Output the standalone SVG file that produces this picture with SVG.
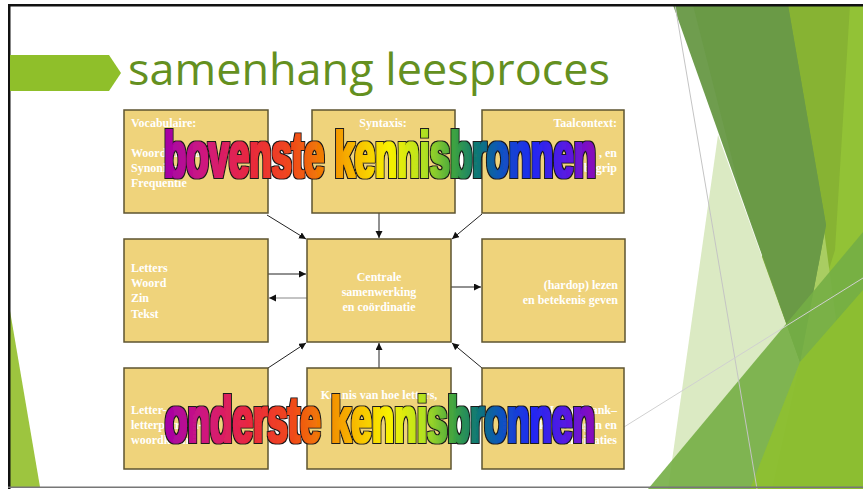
<svg xmlns="http://www.w3.org/2000/svg" width="863" height="489" viewBox="0 0 863 489">
<style>
.box{fill:#EFD37B;stroke:#5e5430;stroke-width:1.5}
.t{font-family:"Liberation Sans",serif;font-weight:bold;font-size:12px;fill:#ffffff}
.t{font-family:"Liberation Serif",serif}
.c{stroke:#222;stroke-width:1;fill:none;marker-end:url(#ah)}
.wa{font-family:"Liberation Sans",Arial,sans-serif;font-weight:bold;font-size:64px;filter:url(#heavy)}
</style>
<defs>
<marker id="ah" markerWidth="8" markerHeight="8" refX="7" refY="3.5" orient="auto" markerUnits="userSpaceOnUse">
<path d="M0,0 L7,3.5 L0,7 z" fill="#111"/>
</marker>
<linearGradient id="rb" gradientUnits="userSpaceOnUse" x1="163" y1="0" x2="598" y2="0">
<stop offset="0" stop-color="#a000a8"/>
<stop offset="0.1" stop-color="#d0187a"/>
<stop offset="0.2" stop-color="#e8283c"/>
<stop offset="0.3" stop-color="#f04a18"/>
<stop offset="0.37" stop-color="#f08000"/>
<stop offset="0.45" stop-color="#f8c000"/>
<stop offset="0.52" stop-color="#f8f000"/>
<stop offset="0.6" stop-color="#b0e020"/>
<stop offset="0.67" stop-color="#3aa040"/>
<stop offset="0.72" stop-color="#107870"/>
<stop offset="0.78" stop-color="#1050c0"/>
<stop offset="0.85" stop-color="#2028f0"/>
<stop offset="0.93" stop-color="#5818e0"/>
<stop offset="1" stop-color="#9008b0"/>
</linearGradient>
<filter id="heavy" x="-5%" y="-25%" width="110%" height="150%">
<feMorphology in="SourceGraphic" operator="dilate" radius="0.9" result="fat"/>
<feMorphology in="SourceAlpha" operator="dilate" radius="2" result="ol"/>
<feFlood flood-color="#1a1a1a"/>
<feComposite in2="ol" operator="in" result="olc"/>
<feMerge><feMergeNode in="olc"/><feMergeNode in="fat"/></feMerge>
</filter>
</defs>
<rect width="863" height="489" fill="#ffffff"/>
<g id="decoration">
<polygon points="9,305 9,487 40,487" fill="#9dc53f"/>
<polygon points="780,5 863,5 863,489 745,489" fill="#87b333"/>
<polygon points="850,5 863,5 863,489 750,489 800,362 835,250" fill="#92c236"/>
<polygon points="718,135 800,362 772,489 668,489" fill="#dbeac3"/>
<polygon points="822,215 836,320 790,420 800,362" fill="#a9cd62"/>
<polygon points="673,5 788,5 826,225 800,362" fill="#6f9d4e"/>
<polygon points="693,5 788,5 826,225 800,362 740,190" fill="#6a9a46"/>
<polygon points="648,489 863,232 863,489" fill="#74ae45" opacity="0.9"/>
<polygon points="750,489 800,362 863,290 863,489" fill="#8fc12e" opacity="0.85"/>
<line x1="675" y1="5" x2="757" y2="489" stroke="#c4c4c4" stroke-width="1"/>
<line x1="624" y1="427" x2="863" y2="278" stroke="#d0d0d0" stroke-width="1"/>
</g>
<g id="frame">
<rect x="8" y="4" width="856" height="2.5" fill="#111"/>
<rect x="8" y="4" width="2.5" height="485" fill="#111"/>
<rect x="8" y="486.5" width="856" height="1.5" fill="#777"/>
</g>
<g id="title">
<polygon points="10,55 109,55 121,73 109,91 10,91" fill="#8fbf2a"/>
<text x="128" y="85" font-family="'Open Sans','Noto Sans',sans-serif" font-size="44" fill="#64901f" textLength="482" lengthAdjust="spacingAndGlyphs">samenhang leesproces</text>
</g>
<g id="connectors">
<line class="c" x1="267" y1="215" x2="306" y2="239"/>
<line class="c" x1="379" y1="213" x2="379" y2="238"/>
<line class="c" x1="482" y1="214" x2="452" y2="239"/>
<line class="c" x1="268" y1="274" x2="306" y2="274"/>
<line class="c" x1="307" y1="298" x2="269" y2="298" style="stroke:#888"/>
<line class="c" x1="451" y1="287" x2="481" y2="287"/>
<line class="c" x1="268" y1="368" x2="306" y2="343"/>
<line class="c" x1="379" y1="368" x2="379" y2="343"/>
<line class="c" x1="482" y1="368" x2="452" y2="343"/>
</g>
<g id="vocabulaire">
<rect class="box" x="124" y="110" width="144" height="103"/>
<text class="t" x="131" y="127">Vocabulaire:</text>
<text class="t" x="131" y="157">Woordenschat</text>
<text class="t" x="131" y="172">Synoniemen</text>
<text class="t" x="131" y="187">Frequentie</text>
</g>
<g id="syntaxis">
<rect class="box" x="312" y="110" width="143" height="103"/>
<text class="t" x="383" y="127" text-anchor="middle">Syntaxis:</text>
</g>
<g id="taalcontext">
<rect class="box" x="482" y="110" width="142" height="103"/>
<text class="t" x="617" y="127" text-anchor="end">Taalcontext:</text>
<text class="t" x="617" y="157" text-anchor="end">, en</text>
<text class="t" x="617" y="172" text-anchor="end">begrip</text>
</g>
<g id="letters">
<rect class="box" x="124" y="239" width="144" height="103"/>
<text class="t" x="131" y="272">Letters</text>
<text class="t" x="131" y="287">Woord</text>
<text class="t" x="131" y="302">Zin</text>
<text class="t" x="131" y="318">Tekst</text>
</g>
<g id="centrale">
<rect class="box" x="307" y="239" width="144" height="103"/>
<text class="t" x="379" y="281" text-anchor="middle">Centrale</text>
<text class="t" x="379" y="296" text-anchor="middle">samenwerking</text>
<text class="t" x="379" y="311" text-anchor="middle">en coördinatie</text>
</g>
<g id="lezen">
<rect class="box" x="482" y="239" width="143" height="103"/>
<text class="t" x="618" y="289" text-anchor="end">(hardop) lezen</text>
<text class="t" x="618" y="304" text-anchor="end">en betekenis geven</text>
</g>
<g id="letterkennis">
<rect class="box" x="124" y="368" width="144" height="101"/>
<text class="t" x="131" y="414">Letter- en</text>
<text class="t" x="131" y="429">letterpatroon-</text>
<text class="t" x="131" y="444">woordkennis</text>
</g>
<g id="kennis">
<rect class="box" x="307" y="368" width="144" height="101"/>
<text class="t" x="379" y="399" text-anchor="middle">Kennis van hoe letters,</text>
</g>
<g id="letterklank">
<rect class="box" x="482" y="368" width="142" height="101"/>
<text class="t" x="617" y="414" text-anchor="end">Letterklank–</text>
<text class="t" x="617" y="429" text-anchor="end">koppelingen en</text>
<text class="t" x="617" y="444" text-anchor="end">combinaties</text>
</g>
<g id="wordart">
<text class="wa" x="164" y="177" fill="url(#rb)" textLength="432" lengthAdjust="spacingAndGlyphs">bovenste kennisbronnen</text>
<text class="wa" x="165" y="442" fill="url(#rb)" textLength="430" lengthAdjust="spacingAndGlyphs">onderste kennisbronnen</text>
</g>
</svg>
